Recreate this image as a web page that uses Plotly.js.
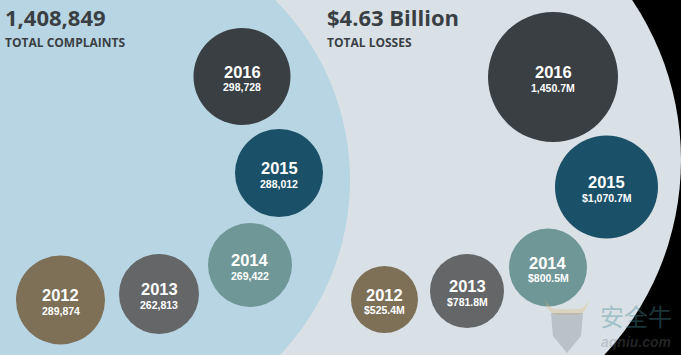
<!DOCTYPE html>
<html><head><meta charset="utf-8">
<script src="https://cdn.plot.ly/plotly-3.0.1.min.js"></script>
<style>html,body{margin:0;padding:0;background:#000;}#c{width:681px;height:355px;}</style>
</head><body><div id="c"></div>
<script>
// ---- data ----
var years = ['2012','2013','2014','2015','2016'];
var complaints = [289874, 262813, 269422, 288012, 298728];
var losses = [525.4, 781.8, 800.5, 1070.7, 1450.7];
var lossLabels = ['$525.4M','$781.8M','$800.5M','$1,070.7M','1,450.7M'];
var totalComplaints = '1,408,849';
var totalLosses = '$4.63 Billion';

// ---- layout / style (pixel placement of the infographic) ----
var colors = ['#7e6f57','#656667','#6f9797','#1b5069','#3a3f44'];
var leftX = [60.5, 159, 250, 279, 242], leftY = [300, 294, 265, 173, 76.5], leftD = [89, 80, 84, 88, 97];
var rightX = [384.5, 467, 548, 606.5, 553], rightY = [299.5, 291, 267.5, 187, 77], rightD = [67, 74, 78, 103, 130];
var FONT = 'Open Sans';
var LFONT = 'Liberation Sans';
var DARK = '#3a3f44';

function fmt(n){ return n.toString().replace(/\B(?=(\d{3})+(?!\d))/g, ','); }

var traces = [
  {type:'scatter', mode:'markers', x:leftX, y:leftY, hoverinfo:'skip',
   marker:{size:leftD, sizemode:'diameter', color:colors, line:{width:0}, opacity:1}},
  {type:'scatter', mode:'markers', x:rightX, y:rightY, hoverinfo:'skip',
   marker:{size:rightD, sizemode:'diameter', color:colors, line:{width:0}, opacity:1}}
];

var ann = [];
function addLabels(xs, ys, vals){
  for (var i=0;i<years.length;i++){
    ann.push({x:xs[i], y:ys[i]-4.8, xref:'x', yref:'y', text:'<b>'+years[i]+'</b>',
      showarrow:false, xanchor:'center', yanchor:'middle', borderpad:0,
      font:{family:LFONT, size:16.5, color:'#ffffff'}});
    ann.push({x:xs[i], y:ys[i]+10.6, xref:'x', yref:'y', text:'<b>'+vals[i]+'</b>',
      showarrow:false, xanchor:'center', yanchor:'middle', borderpad:0,
      font:{family:LFONT, size:10.5, color:'#ffffff'}});
  }
}
addLabels(leftX, leftY, complaints.map(fmt));
addLabels(rightX, rightY, lossLabels);

ann.push({x:3, y:17, xref:'x', yref:'y', text:'<b>'+totalComplaints+'</b>', showarrow:false,
  xanchor:'left', yanchor:'middle', font:{family:FONT, size:22, color:DARK}});
ann.push({x:3, y:42, xref:'x', yref:'y', text:'<b>TOTAL COMPLAINTS</b>', showarrow:false,
  xanchor:'left', yanchor:'middle', font:{family:FONT, size:12, color:DARK}});
ann.push({x:325, y:17, xref:'x', yref:'y', text:'<b>'+totalLosses+'</b>', showarrow:false,
  xanchor:'left', yanchor:'middle', font:{family:FONT, size:22, color:DARK}});
ann.push({x:325, y:42, xref:'x', yref:'y', text:'<b>TOTAL LOSSES</b>', showarrow:false,
  xanchor:'left', yanchor:'middle', font:{family:FONT, size:12, color:DARK}});
// watermark
ann.push({x:636, y:315, xref:'x', yref:'y', text:'安全牛', showarrow:false,
  xanchor:'center', yanchor:'middle', borderpad:0,
  font:{family:'Noto Sans CJK SC', size:24, color:'rgba(70,140,150,0.4)'}});
ann.push({x:636, y:341.5, xref:'x', yref:'y', text:'<b><i>aqniu.com</i></b>', showarrow:false,
  xanchor:'center', yanchor:'middle', borderpad:0,
  font:{family:LFONT, size:14, color:'rgba(120,125,130,0.3)'}});

var shapes = [
  {type:'circle', xref:'x', yref:'y', x0:395-286, x1:395+286, y0:160-286, y1:160+286,
   fillcolor:'#d9e1e6', line:{width:0}, layer:'below'},
  {type:'circle', xref:'x', yref:'y', x0:96.5-253.5, x1:96.5+253.5, y0:180-253.5, y1:180+253.5,
   fillcolor:'#b8d5e3', line:{width:0}, layer:'below'},
  // watermark logo (faint)
  {type:'path', xref:'x', yref:'y', layer:'above',
   path:'M545,299 Q547,313 556,315 L578,315 Q587,313 589,299 Q585,309 578,309 L556,309 Q549,309 545,299 Z',
   fillcolor:'rgba(220,190,120,0.35)', line:{width:0}},
  {type:'path', xref:'x', yref:'y', layer:'above',
   path:'M551,313 L583,313 L581,336 L567,353 L553,336 Z',
   fillcolor:'rgba(130,135,140,0.35)', line:{width:0}}
];

var layout = {
  width:681, height:355, margin:{l:0,r:0,t:0,b:0},
  paper_bgcolor:'#000000', plot_bgcolor:'rgba(0,0,0,0)',
  showlegend:false,
  xaxis:{range:[0,681], visible:false, fixedrange:true},
  yaxis:{range:[355,0], visible:false, fixedrange:true},
  shapes:shapes, annotations:ann
};
Plotly.newPlot('c', traces, layout, {displayModeBar:false, staticPlot:true});
</script></body></html>
